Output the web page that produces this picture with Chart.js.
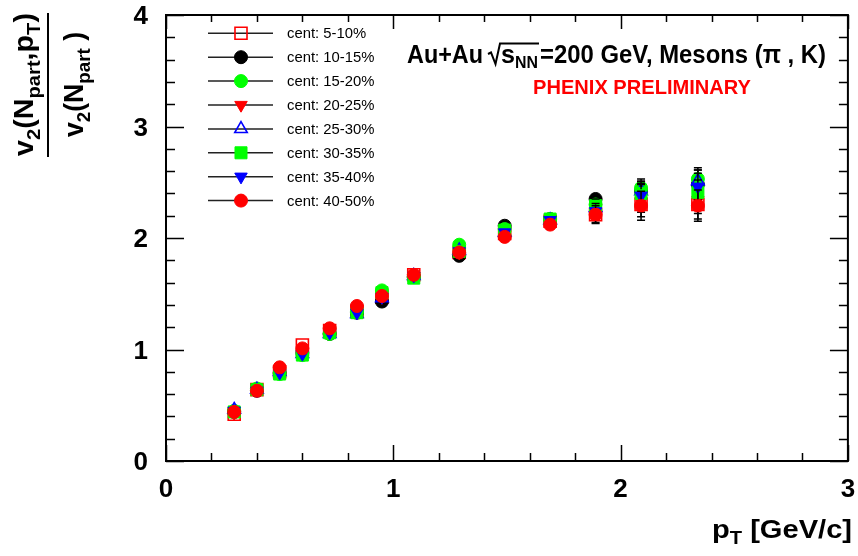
<!DOCTYPE html>
<html><head><meta charset="utf-8">
<script src="https://cdn.jsdelivr.net/npm/chart.js@4.4.1/dist/chart.umd.min.js"></script>
<style>html,body{margin:0;padding:0;background:#fff;}#wrap{width:858px;height:556px;position:relative;}</style>
</head><body><div id="wrap"><canvas id="c"></canvas></div>
<script>
// ---- data ----
const pT = [0.30, 0.40, 0.50, 0.60, 0.72, 0.84, 0.95, 1.09, 1.29, 1.49, 1.69, 1.89, 2.09, 2.34];
const seriesLabels = ['cent: 5-10%','cent: 10-15%','cent: 15-20%','cent: 20-25%','cent: 25-30%','cent: 30-35%','cent: 35-40%','cent: 40-50%'];
const cent5_10  = [0.42, 0.64, 0.80, 1.04, 1.17, 1.34, 1.47, 1.67, 1.87, 2.04, 2.15, 2.21, 2.30, 2.30];
const cent10_15 = [0.44, 0.63, 0.79, 0.97, 1.14, 1.33, 1.43, 1.65, 1.84, 2.11, 2.17, 2.35, 2.42, 2.48];
const cent15_20 = [0.45, 0.65, 0.78, 0.95, 1.14, 1.34, 1.53, 1.65, 1.94, 2.08, 2.17, 2.30, 2.45, 2.53];
const cent20_25 = [0.43, 0.64, 0.80, 0.97, 1.16, 1.35, 1.47, 1.66, 1.87, 2.03, 2.14, 2.27, 2.33, 2.34];
const cent25_30 = [0.46, 0.64, 0.80, 0.96, 1.14, 1.32, 1.46, 1.66, 1.89, 2.05, 2.16, 2.27, 2.42, 2.51];
const cent30_35 = [0.44, 0.64, 0.78, 0.95, 1.15, 1.33, 1.51, 1.64, 1.88, 2.07, 2.17, 2.29, 2.40, 2.41];
const cent35_40 = [0.45, 0.63, 0.79, 0.96, 1.15, 1.33, 1.47, 1.66, 1.88, 2.05, 2.16, 2.24, 2.38, 2.46];
const cent40_50 = [0.44, 0.63, 0.84, 1.01, 1.19, 1.39, 1.48, 1.67, 1.87, 2.01, 2.12, 2.21, 2.29, 2.29];
const err5_10  = [0.01, 0.01, 0.01, 0.015, 0.015, 0.02, 0.02, 0.02, 0.03, 0.03, 0.04, 0.07, 0.11, 0.13];
const err10_15 = [0.01, 0.01, 0.01, 0.015, 0.015, 0.02, 0.02, 0.02, 0.025, 0.03, 0.035, 0.05, 0.09, 0.13];
const err15_20 = [0.01, 0.01, 0.01, 0.01, 0.015, 0.015, 0.02, 0.02, 0.025, 0.03, 0.035, 0.05, 0.08, 0.10];
const err20_25 = [0.01, 0.01, 0.01, 0.015, 0.015, 0.02, 0.02, 0.02, 0.03, 0.03, 0.04, 0.06, 0.10, 0.12];
const err25_30 = [0.01, 0.01, 0.01, 0.015, 0.015, 0.02, 0.02, 0.02, 0.03, 0.03, 0.04, 0.06, 0.09, 0.10];
const err30_35 = [0.01, 0.01, 0.01, 0.015, 0.015, 0.02, 0.02, 0.02, 0.03, 0.03, 0.04, 0.06, 0.09, 0.11];
const err35_40 = [0.01, 0.01, 0.01, 0.015, 0.015, 0.02, 0.02, 0.025, 0.03, 0.035, 0.04, 0.07, 0.10, 0.12];
const err40_50 = [0.01, 0.01, 0.01, 0.015, 0.015, 0.02, 0.02, 0.025, 0.03, 0.035, 0.04, 0.08, 0.13, 0.14];
const xTickValues = [0, 1, 2, 3];
const xTickLabels = ['0', '1', '2', '3'];
const yTickValues = [0, 1, 2, 3, 4];
const yTickLabels = ['0', '1', '2', '3', '4'];

const seriesValues = [cent5_10, cent10_15, cent15_20, cent20_25, cent25_30, cent30_35, cent35_40, cent40_50];
const seriesErrors = [err5_10, err10_15, err15_20, err20_25, err25_30, err30_35, err35_40, err40_50];

// ---- styles ----
const styles = [
  {color:'#ff0000', style:'rect', radius:8.5, rot:0, open:true},
  {color:'#000000', style:'circle', radius:6.5, rot:0, open:false},
  {color:'#00ff00', style:'circle', radius:6.5, rot:0, open:false},
  {color:'#ff0000', style:'triangle', radius:7.2, rot:180, open:false},
  {color:'#0000ff', style:'triangle', radius:7.2, rot:0, open:true},
  {color:'#00ff00', style:'rect', radius:8.5, rot:0, open:false},
  {color:'#0000ff', style:'triangle', radius:7.2, rot:180, open:false},
  {color:'#ff0000', style:'circle', radius:6.5, rot:0, open:false}
];
const SANS = '"Liberation Sans", Arial, Helvetica, sans-serif';

function drawMarker(ctx, st, x, y) {
  ctx.save();
  ctx.fillStyle = st.color; ctx.strokeStyle = st.color;
  ctx.lineWidth = st.open ? 1.6 : 1;
  ctx.beginPath();
  const r = st.radius;
  if (st.style === 'circle') ctx.arc(x, y, r, 0, Math.PI * 2);
  else if (st.style === 'rect') { const s = r * Math.SQRT1_2; ctx.rect(x - s, y - s, 2 * s, 2 * s); }
  else {
    let a = st.rot * Math.PI / 180;
    ctx.moveTo(x + Math.sin(a) * r, y - Math.cos(a) * r);
    a += 2 * Math.PI / 3; ctx.lineTo(x + Math.sin(a) * r, y - Math.cos(a) * r);
    a += 2 * Math.PI / 3; ctx.lineTo(x + Math.sin(a) * r, y - Math.cos(a) * r);
    ctx.closePath();
  }
  if (!st.open) ctx.fill();
  ctx.stroke();
  ctx.restore();
}

// draw text segments fitted to a width (x = left start, baseline y)
function drawSegs(ctx, segs, x, y, targetW) {
  let W = 0;
  segs.forEach(s => { ctx.font = s.font; s.w = ctx.measureText(s.t).width; W += s.w; });
  const k = targetW ? targetW / W : 1;
  ctx.save();
  ctx.translate(x, y); ctx.scale(k, 1);
  let cx = 0;
  segs.forEach(s => { ctx.font = s.font; ctx.fillStyle = s.color || '#000'; ctx.textBaseline = 'alphabetic'; ctx.textAlign = 'left'; ctx.fillText(s.t, cx, s.dy || 0); cx += s.w; });
  ctx.restore();
}
function fitText(ctx, t, x0, x1, y, font, color) { drawSegs(ctx, [{t, font, color}], x0, y, x1 - x0); }

const frameAxes = {
  id: 'frameAxes',
  afterDraw(chart) {
    const ctx = chart.ctx, a = chart.chartArea, xs = chart.scales.x, ys = chart.scales.y;
    ctx.save();
    ctx.strokeStyle = '#000'; ctx.lineWidth = 2;
    ctx.strokeRect(a.left, a.top, a.right - a.left, a.bottom - a.top);
    ctx.lineWidth = 1.5;
    // x ticks (bottom & top), minor every 0.2
    for (let m = 0; m < xTickValues.length; m++) {
      for (let k = 0; k < 5; k++) {
        if (m === xTickValues.length - 1 && k > 0) break;
        const v = xTickValues[m] + k * 0.2;
        const px = Math.round(xs.getPixelForValue(v)) + 0.5;
        const L = k === 0 ? 16 : 8, Lt = k === 0 ? 14 : 7;
        ctx.beginPath(); ctx.moveTo(px, a.bottom); ctx.lineTo(px, a.bottom - L);
        ctx.moveTo(px, a.top); ctx.lineTo(px, a.top + Lt); ctx.stroke();
      }
    }
    for (let m = 0; m < yTickValues.length; m++) {
      for (let k = 0; k < 5; k++) {
        if (m === yTickValues.length - 1 && k > 0) break;
        const v = yTickValues[m] + k * 0.2;
        const py = Math.round(ys.getPixelForValue(v)) + 0.5;
        const L = k === 0 ? 18 : 9;
        ctx.beginPath(); ctx.moveTo(a.left, py); ctx.lineTo(a.left + L, py);
        ctx.moveTo(a.right, py); ctx.lineTo(a.right - L, py); ctx.stroke();
      }
    }
    // tick labels
    ctx.fillStyle = '#000';
    const tf = 'bold 26px ' + SANS;
    xTickValues.forEach((v, i) => {
      ctx.font = tf; const w = ctx.measureText(xTickLabels[i]).width;
      const px = xs.getPixelForValue(v);
      fitText(ctx, xTickLabels[i], px - w / 2, px + w / 2, 497, tf);
    });
    yTickValues.forEach((v, i) => {
      ctx.font = tf; const w = ctx.measureText(yTickLabels[i]).width;
      const py = ys.getPixelForValue(v);
      fitText(ctx, yTickLabels[i], 148 - w, 148, py + 9, tf);
    });
    // x title
    const B = 'bold 26px ' + SANS, Bs = 'bold 18px ' + SANS;
    drawSegs(ctx, [{t:'p', font:B}, {t:'T', font:Bs, dy:6}, {t:' [GeV/c]', font:B}], 712, 538, 140);
    // y title (rotated)
    const Y = 'bold 27px ' + SANS, Ys = 'bold 19px ' + SANS;
    ctx.save(); ctx.translate(33, 156); ctx.rotate(-Math.PI / 2);
    drawSegs(ctx, [{t:'v',font:Y},{t:'2',font:Ys,dy:7},{t:'(N',font:Y},{t:'part',font:Ys,dy:7},{t:',p',font:Y},{t:'T',font:Ys,dy:7},{t:')',font:Y}], 0, 0, 143);
    ctx.restore();
    ctx.save(); ctx.translate(83, 137); ctx.rotate(-Math.PI / 2);
    drawSegs(ctx, [{t:'v',font:Y},{t:'2',font:Ys,dy:7},{t:'(N',font:Y},{t:'part',font:Ys,dy:7},{t:' )',font:Y}], 0, 0, 105);
    ctx.restore();
    ctx.lineWidth = 2; ctx.beginPath(); ctx.moveTo(48, 13); ctx.lineTo(48, 157); ctx.stroke();
    // title
    const T = 'bold 25px ' + SANS, Ts = 'bold 17px ' + SANS;
    fitText(ctx, 'Au+Au', 407, 483, 63, T);
    ctx.lineWidth = 2; ctx.lineJoin = 'miter';
    ctx.beginPath(); ctx.moveTo(488, 54); ctx.lineTo(491, 52.5); ctx.lineTo(495.5, 64); ctx.lineTo(500, 43.5); ctx.lineTo(539, 43.5); ctx.stroke();
    fitText(ctx, 's', 501, 515, 63, T);
    fitText(ctx, 'NN', 515, 538, 68, Ts);
    fitText(ctx, '=200 GeV, Mesons (\u03C0 , K)', 540, 826, 63, T);
    fitText(ctx, 'PHENIX PRELIMINARY', 533, 751, 94, 'bold 20px ' + SANS, '#ff0000');
    // legend
    const LF = '14px ' + SANS;
    seriesLabels.forEach((lab, i) => {
      const y = 33.3 + i * 23.9;
      ctx.strokeStyle = '#222'; ctx.lineWidth = 1.5;
      ctx.beginPath(); ctx.moveTo(208, y); ctx.lineTo(273, y); ctx.stroke();
      drawMarker(ctx, styles[i], 241, y);
      ctx.font = LF; const w = ctx.measureText(lab).width * 1.06;
      fitText(ctx, lab, 287, 287 + w, y + 5, LF, '#000');
    });
    ctx.restore();
  }
};

const errorBars = {
  id: 'errorBars',
  afterDatasetDraw(chart, args) {
    const i = args.index, ctx = chart.ctx, xs = chart.scales.x, ys = chart.scales.y;
    const vals = seriesValues[i], errs = seriesErrors[i];
    ctx.save(); ctx.strokeStyle = '#000'; ctx.lineWidth = 1.5;
    pT.forEach((x, j) => {
      const px = xs.getPixelForValue(x), pc = ys.getPixelForValue(vals[j]);
      const pt = ys.getPixelForValue(vals[j] + errs[j]), pb = ys.getPixelForValue(vals[j] - errs[j]);
      const r = 6.5;
      if (pc - pt > r) { ctx.beginPath(); ctx.moveTo(px, pt); ctx.lineTo(px, pc - r); ctx.moveTo(px - 4, pt); ctx.lineTo(px + 4, pt); ctx.stroke(); }
      if (pb - pc > r) { ctx.beginPath(); ctx.moveTo(px, pb); ctx.lineTo(px, pc + r); ctx.moveTo(px - 4, pb); ctx.lineTo(px + 4, pb); ctx.stroke(); }
    });
    ctx.restore();
  }
};

const datasets = seriesValues.map((vals, i) => ({
  label: seriesLabels[i],
  data: pT.map((x, j) => ({x: x, y: vals[j]})),
  showLine: false,
  order: seriesValues.length - 1 - i,
  pointStyle: styles[i].style,
  pointRadius: styles[i].radius,
  pointRotation: styles[i].rot,
  pointBackgroundColor: styles[i].open ? 'rgba(0,0,0,0)' : styles[i].color,
  pointBorderColor: styles[i].color,
  pointBorderWidth: styles[i].open ? 1.6 : 1,
  pointHoverRadius: styles[i].radius
}));

new Chart(document.getElementById('c'), {
  type: 'scatter',
  data: { datasets },
  options: {
    responsive: true, maintainAspectRatio: false, animation: false,
    layout: { padding: { left: 166, right: 6, top: 15, bottom: 95 } },
    plugins: { legend: { display: false }, tooltip: { enabled: false } },
    scales: {
      x: { type: 'linear', min: 0, max: 3, display: false },
      y: { type: 'linear', min: 0, max: 4, display: false }
    }
  },
  plugins: [errorBars, frameAxes]
});
</script></body></html>
